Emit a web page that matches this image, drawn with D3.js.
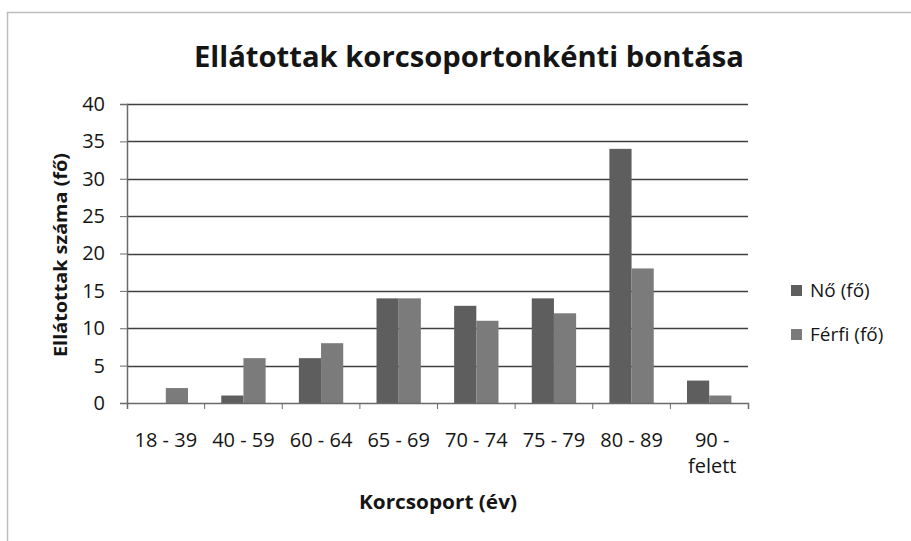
<!DOCTYPE html>
<html>
<head>
<meta charset="utf-8">
<script src="https://cdn.jsdelivr.net/npm/d3@7"></script>
<style>
  body { margin: 0; background: #fff; }
  text { font-family: "Open Sans", "DejaVu Sans", sans-serif; fill: #151515; }
</style>
</head>
<body>
<svg id="chart" width="911" height="541"></svg>
<script>
const categories = ['18 - 39', '40 - 59', '60 - 64', '65 - 69', '70 - 74', '75 - 79', '80 - 89', '90 - felett'];
const noValues = [0, 1, 6, 14, 13, 14, 34, 3];
const ferfiValues = [2, 6, 8, 14, 11, 12, 18, 1];
const seriesNames = ['Nő (fő)', 'Férfi (fő)'];
const seriesColors = ['#5e5e5e', '#7b7b7b'];
const yTicks = [0, 5, 10, 15, 20, 25, 30, 35, 40];

const svg = d3.select('#chart');

// frame
svg.append('path')
    .attr('d', 'M7.5,541 V12.5 H911')
    .attr('fill', 'none')
    .attr('stroke', '#bdbdbd')
    .attr('stroke-width', 1.5);

const plot = {left: 127, right: 748, top: 104, bottom: 403};

const x = d3.scaleBand()
    .domain(categories)
    .range([plot.left, plot.right])
    .paddingInner(0)
    .paddingOuter(0);

const y = d3.scaleLinear()
    .domain([0, 40])
    .range([plot.bottom, plot.top]);

const gap = x.bandwidth() * 1.5 / 3.5;
const xs = d3.scaleBand()
    .domain(seriesNames)
    .range([gap / 2, x.bandwidth() - gap / 2]);

// gridlines
svg.append('g')
    .selectAll('line')
    .data(yTicks.filter(d => d > 0))
    .join('line')
    .attr('x1', plot.left)
    .attr('x2', plot.right)
    .attr('y1', d => Math.round(y(d)) + 0.5)
    .attr('y2', d => Math.round(y(d)) + 0.5)
    .attr('stroke', '#404040')
    .attr('stroke-width', 1.3);

// bars
const rows = categories.map((c, i) => ({cat: c, values: [noValues[i], ferfiValues[i]]}));
svg.append('g')
    .selectAll('g')
    .data(rows)
    .join('g')
    .attr('transform', d => `translate(${x(d.cat)},0)`)
    .selectAll('rect')
    .data(d => d.values.map((v, j) => ({name: seriesNames[j], value: v, color: seriesColors[j]})))
    .join('rect')
    .attr('x', d => xs(d.name))
    .attr('width', xs.bandwidth())
    .attr('y', d => y(d.value))
    .attr('height', d => y(0) - y(d.value))
    .attr('fill', d => d.color);

// y axis
const yAxis = svg.append('g')
    .attr('transform', `translate(${plot.left},0)`)
    .call(d3.axisLeft(y).tickValues(yTicks).tickSize(7).tickPadding(15));
yAxis.select('.domain').attr('stroke', '#6a6a6a').attr('stroke-width', 1.5);
yAxis.selectAll('.tick line').attr('stroke', '#6a6a6a');
yAxis.selectAll('.tick text')
    .style('font-size', '20px')
    .style('font-family', '"Open Sans", sans-serif')
    .attr('fill', '#151515');

// x axis
const xAxis = svg.append('g')
    .attr('transform', `translate(0,${plot.bottom})`)
    .call(d3.axisBottom(x).tickSizeOuter(6).tickSizeInner(0).tickFormat(''));
xAxis.select('.domain').attr('stroke', '#6a6a6a').attr('stroke-width', 1.5);
xAxis.selectAll('.tick').remove();

// category boundary ticks
xAxis.selectAll('line.cat-tick')
    .data(categories.slice(1))
    .join('line')
    .attr('class', 'cat-tick')
    .attr('x1', d => x(d))
    .attr('x2', d => x(d))
    .attr('y1', 0)
    .attr('y2', 6)
    .attr('stroke', '#6a6a6a');

// x labels
svg.append('g')
    .selectAll('text')
    .data(categories)
    .join('text')
    .attr('text-anchor', 'middle')
    .style('font-size', '20px')
    .each(function(d) {
        const t = d3.select(this);
        const cx = x(d) + x.bandwidth() / 2;
        const parts = d === '90 - felett' ? ['90 -', 'felett'] : [d];
        parts.forEach((p, k) => {
            t.append('tspan')
                .attr('x', cx + (parts.length > 1 ? 3 : 0))
                .attr('y', 447 + k * 26)
                .text(p);
        });
    });

// title
svg.append('text')
    .attr('x', 469)
    .attr('y', 67)
    .attr('text-anchor', 'middle')
    .style('font-size', '28px')
    .style('font-weight', 'bold')
    .attr('textLength', 550)
    .attr('lengthAdjust', 'spacingAndGlyphs')
    .text('Ellátottak korcsoportonkénti bontása');

// axis titles
svg.append('text')
    .attr('x', 438)
    .attr('y', 509)
    .attr('text-anchor', 'middle')
    .style('font-size', '19px')
    .style('font-weight', 'bold')
    .attr('textLength', 158)
    .attr('lengthAdjust', 'spacingAndGlyphs')
    .text('Korcsoport (év)');

svg.append('text')
    .attr('transform', 'translate(67,255) rotate(-90)')
    .attr('text-anchor', 'middle')
    .style('font-size', '18px')
    .style('font-weight', 'bold')
    .attr('textLength', 204)
    .attr('lengthAdjust', 'spacingAndGlyphs')
    .text('Ellátottak száma (fő)');

// legend
const legend = svg.append('g')
    .selectAll('g')
    .data(seriesNames)
    .join('g')
    .attr('transform', (d, i) => `translate(791,${285 + i * 44})`);
legend.append('rect')
    .attr('width', 11)
    .attr('height', 11)
    .attr('fill', (d, i) => seriesColors[i]);
legend.append('text')
    .attr('x', 19)
    .attr('y', 12)
    .style('font-size', '19px')
    .text(d => d);
</script>
</body>
</html>
